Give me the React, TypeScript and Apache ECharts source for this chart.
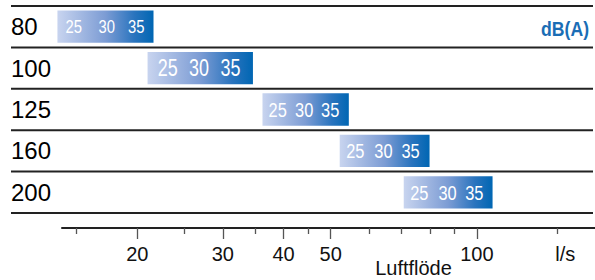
import React, { useEffect, useRef } from "react";
import * as echarts from "echarts";

// Duct sizes (rows) and airflow ranges (l/s)
const ductSizes = ["80", "100", "125", "160", "200"];
const flowMin = [13.7, 21.0, 36.2, 52.2, 70.7];
const flowMax = [21.6, 34.6, 54.5, 79.9, 107.7];
// Sound levels dB(A) and the airflow where each level is reached
const soundLevels = ["25", "30", "35"];
const flowAt25 = [14.8, 23.1, 38.9, 56.2, 76.1];
const flowAt30 = [17.3, 26.8, 44.1, 64.2, 87.0];
const flowAt35 = [19.9, 31.1, 49.9, 73.0, 98.8];
// Axis ticks
const majorTicks = [20, 30, 40, 50, 100];
const minorTicks = [15, 25, 35, 45, 60, 70, 80, 90, 146];
const unitTick = 152;
const unitLabel = "l/s";
const axisTitle = "Luftflöde";
const levelUnit = "dB(A)";

const labelSizes = [19, 23, 21, 21, 21];
const SANS = "Liberation Sans, Arial, Helvetica, sans-serif";

export default function App() {
  const ref = useRef<HTMLDivElement>(null);
  useEffect(() => {
    if (!ref.current) return;
    const chart = echarts.init(ref.current, null, { renderer: "svg" });
    const barData = ductSizes.map((_, i) => [i, flowMin[i], flowMax[i], flowAt25[i], flowAt30[i], flowAt35[i]]);
    const sepData = ductSizes.map((_, i) => [i, 20]);
    const gradient = () =>
      new echarts.graphic.LinearGradient(0, 0, 1, 0, [
        { offset: 0, color: "#c8d4ef" },
        { offset: 0.5, color: "#7c9cd4" },
        { offset: 0.8, color: "#2a74be" },
        { offset: 1, color: "#0066b3" },
      ]);
    const xCommon = {
      type: "log",
      min: 14,
      max: 175,
      position: "bottom",
      offset: 15,
      splitLine: { show: false },
      axisPointer: { show: false },
    };
    chart.setOption({
      animation: false,
      grid: { left: 62, right: 0, top: 6, bottom: 67, containLabel: false },
      xAxis: [
        {
          ...xCommon,
          axisLine: { show: true, lineStyle: { color: "#222", width: 2 } },
          axisTick: { show: true, customValues: majorTicks, length: 11, lineStyle: { color: "#555", width: 1.3 } },
          axisLabel: {
            show: true,
            customValues: [...majorTicks, unitTick],
            margin: 16,
            fontSize: 20,
            fontFamily: SANS,
            color: "#111",
            formatter: (v: number) => (Math.round(v) >= 150 ? unitLabel : String(Math.round(v))),
          },
        },
        {
          ...xCommon,
          axisLine: { show: false },
          axisTick: { show: true, customValues: minorTicks, length: 6, lineStyle: { color: "#555", width: 1.3 } },
          axisLabel: { show: false },
        },
      ],
      yAxis: {
        type: "category",
        data: ductSizes,
        inverse: true,
        axisLine: { show: false },
        axisTick: { show: false },
        splitLine: { show: false },
        axisLabel: { align: "left", margin: 51, fontSize: 24, fontFamily: SANS, color: "#000" },
      },
      graphic: [
        {
          type: "text",
          x: 589,
          y: 29,
          scaleX: 0.88,
          style: { text: levelUnit, align: "right", verticalAlign: "middle", fill: "#1a6db5", fontSize: 20, fontWeight: "bold", fontFamily: SANS },
        },
        {
          type: "text",
          x: 413.5,
          y: 268,
          style: { text: axisTitle, align: "center", verticalAlign: "middle", fill: "#111", fontSize: 20, fontFamily: SANS },
        },
      ],
      series: [
        {
          type: "custom",
          xAxisIndex: 0,
          data: sepData,
          encode: { x: 1, y: 0 },
          silent: true,
          renderItem: (params: any, api: any) => {
            const i = api.value(0);
            const c = api.coord([20, i]);
            const bw = api.size([0, 1], [20, i])[1];
            const W = api.getWidth();
            const lines: any[] = [];
            const mk = (y: number) => ({
              type: "line",
              shape: { x1: 11, y1: y, x2: W - 2, y2: y },
              style: { stroke: "#222", lineWidth: 2 },
            });
            lines.push(mk(c[1] - bw / 2));
            if (i === ductSizes.length - 1) lines.push(mk(c[1] + bw / 2));
            return { type: "group", children: lines };
          },
        },
        {
          type: "custom",
          xAxisIndex: 0,
          data: barData,
          encode: { x: [1, 2], y: 0 },
          clip: false,
          renderItem: (params: any, api: any) => {
            const i = api.value(0);
            const p0 = api.coord([api.value(1), i]);
            const p1 = api.coord([api.value(2), i]);
            const bw = api.size([0, 1], [20, i])[1];
            const h = bw * 0.78;
            const children: any[] = [
              {
                type: "rect",
                shape: { x: p0[0], y: p0[1] - h / 2, width: p1[0] - p0[0], height: h },
                style: { fill: gradient() },
              },
            ];
            [3, 4, 5].forEach((d, k) => {
              const pt = api.coord([api.value(d), i]);
              children.push({
                type: "text",
                x: pt[0],
                y: pt[1],
                scaleX: 0.78,
                style: {
                  text: soundLevels[k],
                  fill: "#ffffff",
                  align: "center",
                  verticalAlign: "middle",
                  fontSize: labelSizes[i],
                  fontFamily: SANS,
                },
              });
            });
            return { type: "group", children };
          },
        },
      ],
    });
    return () => chart.dispose();
  }, []);
  return <div ref={ref} style={{ position: "absolute", left: 0, top: 0, width: 595, height: 280 }} />;
}
